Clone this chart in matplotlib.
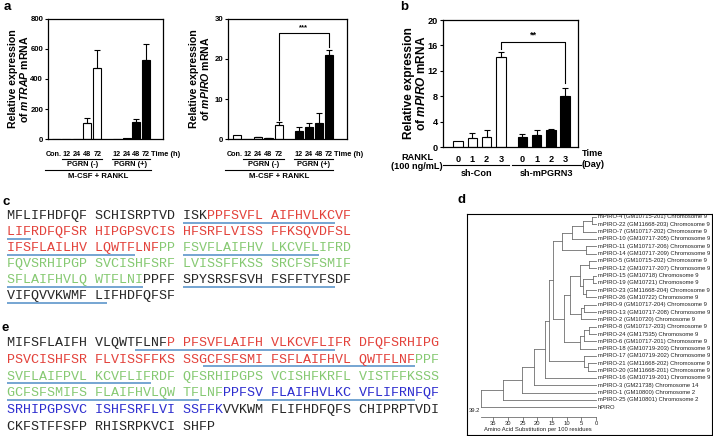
import matplotlib
matplotlib.use('Agg')
import matplotlib.pyplot as plt
import numpy as np

plt.rcParams['font.family'] = ['Liberation Sans', 'DejaVu Sans']
plt.rcParams['mathtext.fontset'] = 'custom'
plt.rcParams['mathtext.it'] = 'Liberation Sans:italic:bold'
plt.rcParams['mathtext.rm'] = 'Liberation Sans:bold'

# ---------------- data ----------------
# panel a, mTRAP (PGRN - / PGRN +)
hour_labels = ['Con.', '12', '24', '48', '72', '12', '24', '48', '72']
trap_minus = [1, 1, 3, 107, 473]
trap_minus_err = [0, 0, 0, 33, 120]
trap_plus = [1, 5, 113, 527]
trap_plus_err = [0, 0, 20, 106]

# panel a, mPIRO
piro_minus = [1.0, 0.1, 0.5, 0.3, 3.5]
piro_minus_err = [0.0, 0.0, 0.1, 0.05, 0.8]
piro_plus = [2.0, 2.9, 4.0, 21.0]
piro_plus_err = [0.9, 1.0, 2.4, 1.2]

# panel b
day_labels = ['0', '1', '2', '3', '0', '1', '2', '3']
shcon = [1.0, 1.4, 1.6, 14.1]
shcon_err = [0.0, 0.8, 1.0, 0.9]
shpgrn = [1.6, 1.9, 2.7, 8.0]
shpgrn_err = [0.4, 0.7, 0.2, 1.3]

# panel c / e sequences: (text, colour key) segments per row
c_rows = [
    [("MFLIFHDFQF SCHISRPTVD ISK", 'k'), ("PPFSVFL AIFHVLKCVF", 'r')],
    [("LIFRDFQFSR HIPGPSVCIS HFSRFLVISS FFKSQVDFSL", 'r')],
    [("IFSFLAILHV LQWTFLNF", 'r'), ("PP FSVFLAIFHV LKCVFLIFRD", 'g')],
    [("FQVSRHIPGP SVCISHFSRF LVISSFFKSS SRCFSFSMIF", 'g')],
    [("SFLAIFHVLQ WTFLNI", 'g'), ("PPFF SPYSRSFSVH FSFFTYFSDF", 'k')],
    [("VIFQVVKWMF LIFHDFQFSF", 'k')],
]
c_underlines = [(0, 22, 41), (1, 0, 3), (2, 0, 16), (2, 22, 39),
                (4, 0, 17), (4, 22, 41), (5, 0, 12.5)]

e_rows = [
    [("MIFSFLAIFH VLQWTFLNF", 'k'), ("P PFSVFLAIFH VLKCVFLIFR DFQFSRHIPG", 'r')],
    [("PSVCISHFSR FLVISSFFKS SSGCFSFSMI FSFLAIFHVL QWTFLNF", 'r'), ("PPF", 'g')],
    [("SVFLAIFPVL KCVFLIFRDF QFSRHIPGPS VCISHFKRFL VISTFFKSSS", 'g')],
    [("GCFSFSMIFS FLAIFHVLQW TFLNF", 'g'), ("PPFSV FLAIFHVLKC VFLIFRNFQF", 'b')],
    [("SRHIPGPSVC ISHFSRFLVI SSFFK", 'b'), ("VVKWM FLIFHDFQFS CHIPRPTVDI", 'k')],
    [("CKFSTFFSFP RHISRPKVCI SHFP", 'k')],
]
e_underlines = [(0, 16, 41), (1, 24.5, 51), (2, 0, 18), (3, 0, 24), (3, 31.2, 51)]

# panel d tree: leaves top to bottom, nodes = (height, [children])
leaf_names = [
    'mPIRO-4 (GM10715-201) Chromosome 9', 'mPIRO-22 (GM11668-203) Chromosome 9',
    'mPIRO-7 (GM10717-202) Chromosome 9', 'mPIRO-10 (GM10717-205) Chromosome 9',
    'mPIRO-11 (GM10717-206) Chromosome 9', 'mPIRO-14 (GM10717-209) Chromosome 9',
    'mPIRO-5 (GM10715-202) Chromosome 9', 'mPIRO-12 (GM10717-207) Chromosome 9',
    'mPIRO-15 (GM10718) Chromosome 9', 'mPIRO-19 (GM10721) Chromosome 9',
    'mPIRO-23 (GM11668-204) Chromosome 9', 'mPIRO-26 (GM10722) Chromosome 9',
    'mPIRO-9 (GM10717-204) Chromosome 9', 'mPIRO-13 (GM10717-208) Chromosome 9',
    'mPIRO-2 (GM10720) Chromosome 9', 'mPIRO-8 (GM10717-203) Chromosome 9',
    'mPIRO-24 (GM17535) Chromosome 9', 'mPIRO-6 (GM10717-201) Chromosome 9',
    'mPIRO-18 (GM10719-203) Chromosome 9', 'mPIRO-17 (GM10719-202) Chromosome 9',
    'mPIRO-21 (GM11668-202) Chromosome 9', 'mPIRO-20 (GM11668-201) Chromosome 9',
    'mPIRO-16 (GM10719-201) Chromosome 9', 'mPIRO-3 (GM21738) Chromosome 14',
    'mPIRO-1 (GM10800) Chromosome 2', 'mPIRO-25 (GM10801) Chromosome 2',
    'hPIRO',
]
clade_12 = (11.5, [(8.0, [(4.4, [(1.4, [0, 1]), 2]), 3]), (3.5, [4, 5])])
clade_3 = (5.5, [(2.4, [6, 7]), (4.5, [(1.0, [8, 9]), (3.5, [10, 11])])])
clade_4 = (5.0, [(4.0, [12, 13]), 14])
clade_5 = (5.5, [(4.0, [(2.4, [15, 16]), 17]), 18])
clade_g = (4.0, [19, (2.7, [20, 21])])
big = (16.0, [(14.6, [clade_12, (11.0, [(9.0, [clade_3, clade_4]), clade_5])]), clade_g])
tree = (39.2, [(31.6, [(25.2, [(21.0, [(17.3, [big, 22]), 23]), 24]), 25]), 26])
scale_ticks = [35, 30, 25, 20, 15, 10, 5, 0]

# ---------------- layout helpers ----------------
W, H = 713, 436
fig = plt.figure(figsize=(W / 100, H / 100), dpi=100)
NARROW = ['Liberation Sans Narrow', 'Liberation Sans']


def rect(l, t, r, b):
    return [l / W, 1 - b / H, (r - l) / W, (b - t) / H]


RED, GREEN, BLUE, BLACK = '#e3423b', '#86c972', '#2d2dcf', '#262626'
colour = {'r': RED, 'g': GREEN, 'b': BLUE, 'k': BLACK}
ULINE = '#4f8dc6'

# overlay for sequences and panel letters
ax_t = fig.add_axes([0, 0, 1, 1], zorder=0)
ax_t.set_xlim(0, W)
ax_t.set_ylim(H, 0)
ax_t.axis('off')

for lab, x, y in [('a', 7, 7), ('b', 404, 7), ('c', 6, 202), ('d', 461, 200), ('e', 5, 328)]:
    ax_t.text(x, y, lab, fontsize=9.5, fontweight='bold', ha='center', va='center')


def draw_seq(rows, unders, y0, dy, x0=7.0, cw=8.0):
    for i, row in enumerate(rows):
        for key in set(c for _, c in row):
            s = ''.join(t if c == key else ' ' * len(t) for t, c in row)
            ax_t.text(x0, y0 + i * dy, s, family='Liberation Mono', fontsize=9.6,
                      color=colour[key], ha='left', va='center')
    for r, a, b in unders:
        ax_t.plot([x0 + a * cw, x0 + b * cw], [y0 + r * dy + 6.5] * 2,
                  color=ULINE, lw=1.1, solid_capstyle='butt')


draw_seq(c_rows, c_underlines, 216, 16.0)
draw_seq(e_rows, e_underlines, 343, 16.8)


# ---------------- bar panels ----------------
def bar_panel(box, pos_a, va, ea, pos_b, vb, eb, width, ymax, ystep, ylabel, ylabel_x, fs):
    ax = fig.add_axes(rect(*box))
    ax.bar(pos_a, va, width, color='white', edgecolor='black', lw=0.8, zorder=2)
    ax.bar(pos_b, vb, width, color='black', edgecolor='black', lw=0.8, zorder=2)
    for p, v, e in [(pos_a, va, ea), (pos_b, vb, eb)]:
        p, v, e = np.array(p), np.array(v), np.array(e)
        m = e > 0
        ax.errorbar(p[m], v[m], yerr=[np.zeros(m.sum()), e[m]], fmt='none',
                    ecolor='black', elinewidth=0.8, capsize=2.2, capthick=0.8, zorder=3)
    ax.set_ylim(0, ymax)
    ax.set_yticks(np.arange(0, ymax + ystep / 2, ystep))
    for s in ax.spines.values():
        s.set_linewidth(0.9)
    ax.tick_params(axis='y', length=2.5, width=0.8, pad=1, labelsize=fs)
    for t in ax.get_yticklabels():
        t.set_fontweight('bold')
    ax.set_ylabel(ylabel, fontsize=fs + 2, fontweight='bold', linespacing=1.0)
    ax.yaxis.set_label_coords(ylabel_x, 0.5)
    return ax


def below(ax, px):
    # pixel distance under the bottom of an axes -> axes fraction
    return -px / (ax.get_position().height * H)


def group_annot(ax, x0, x1, y_line, text, y_text, fs):
    tr = ax.get_xaxis_transform()
    ax.plot([x0, x1], [below(ax, y_line)] * 2, color='black', lw=0.8,
            transform=tr, clip_on=False)
    ax.text((x0 + x1) / 2, below(ax, y_text), text, transform=tr, ha='center',
            va='center', fontsize=fs, fontweight='bold')


pos_minus = np.arange(5)
pos_plus = np.array([5.9, 6.85, 7.8, 8.75])
# label spots under the bars; "Con." nudged left so it clears "12"
label_pos = np.concatenate([[-0.2], pos_minus[1:], pos_plus])

panels_a = [
    ((48, 19, 163, 139), trap_minus, trap_minus_err, trap_plus, trap_plus_err, 800, 200,
     'Relative expression\nof $mTRAP$ mRNA', (-0.8, 10.4), -0.16),
    ((228, 19, 347, 139), piro_minus, piro_minus_err, piro_plus, piro_plus_err, 30, 10,
     'Relative expression\nof $mPIRO$ mRNA', (-0.86, 10.5), -0.14),
]
axes_a = []
for box, vm, em, vp, ep, ymax, ystep, ylab, xl, lx in panels_a:
    ax = bar_panel(box, pos_minus, vm, em, pos_plus, vp, ep, 0.78, ymax, ystep, ylab, lx, 5.6)
    ax.set_xlim(*xl)
    ax.set_xticks(label_pos, hour_labels)
    ax.tick_params(axis='x', length=0, pad=8.5, labelsize=5.2)
    for t in ax.get_xticklabels():
        t.set_fontweight('bold')
        t.set_family(NARROW)
    tr = ax.get_xaxis_transform()
    ax.text(10.7, below(ax, 16), 'Time (h)', transform=tr, ha='center', va='center',
            fontsize=5.4, fontweight='bold', family=NARROW)
    group_annot(ax, 0.6, 4.5, 20, 'PGRN (-)', 25, 5.4)
    group_annot(ax, pos_plus[0] - 0.5, pos_plus[-1] + 0.4, 20, 'PGRN (+)', 25, 5.4)
    group_annot(ax, xl[0] - 0.3, pos_plus[-1] + 0.45, 31, 'M-CSF + RANKL', 37, 5.6)
    axes_a.append(ax)

# significance in mPIRO panel
ax = axes_a[1]
ax.plot([pos_minus[-1], pos_minus[-1], pos_plus[-1], pos_plus[-1]], [4.8, 26.5, 26.5, 23.0],
        color='black', lw=0.8)
ax.text((pos_minus[-1] + pos_plus[-1]) / 2, 26.9, '***', ha='center', va='bottom',
        fontsize=5.5, fontweight='bold')

# panel b
pos_con = np.arange(4)
pos_sh = np.arange(4) + 4.5
axb = bar_panel((443, 20, 578, 147), pos_con, shcon, shcon_err, pos_sh, shpgrn, shpgrn_err,
                0.66, 20, 4, 'Relative expression\nof $mPIRO$ mRNA', -0.11, 6.6)
axb.set_xlim(-1.05, 8.4)
axb.set_xticks(np.concatenate([pos_con, pos_sh]), day_labels)
axb.tick_params(axis='x', length=0, pad=5.5, labelsize=6.6)
for t in axb.get_xticklabels():
    t.set_fontweight('bold')
axb.plot([pos_con[-1], pos_con[-1], pos_sh[-1], pos_sh[-1]], [15.4, 16.6, 16.6, 10.0],
         color='black', lw=0.8)
axb.text((pos_con[-1] + pos_sh[-1]) / 2, 17.0, '**', ha='center', va='bottom',
         fontsize=6.5, fontweight='bold')
trb = axb.get_xaxis_transform()
axb.text(-2.85, below(axb, 10), 'RANKL', transform=trb, ha='center', va='center',
         fontsize=6.6, fontweight='bold')
axb.text(-2.85, below(axb, 19), '(100 ng/mL)', transform=trb, ha='center', va='center',
         fontsize=6.6, fontweight='bold')
axb.text(9.4, below(axb, 6), 'Time', transform=trb, ha='center', va='center',
         fontsize=6.6, fontweight='bold')
axb.text(9.45, below(axb, 17), '(Day)', transform=trb, ha='center', va='center',
         fontsize=6.6, fontweight='bold')
group_annot(axb, -1.05, 3.6, 18, 'sh-Con', 26, 6.6)
group_annot(axb, 3.8, 8.6, 18, 'sh-mPGRN3', 26, 6.6)

# ---------------- panel d tree ----------------
axd = fig.add_axes(rect(467, 214, 712, 435))
axd.set_xlim(43.9, -39.5)
axd.set_ylim(29.8, -0.41)
axd.set_xticks([])
axd.set_yticks([])
for s in axd.spines.values():
    s.set_linewidth(0.8)

TREE_C = '#6f6f6f'


def draw_node(node):
    if isinstance(node, int):
        return float(node), 0.0
    h, kids = node
    pts = [draw_node(k) for k in kids]
    ys = [p[0] for p in pts]
    for y, kh in pts:
        axd.plot([h, kh], [y, y], color=TREE_C, lw=0.6)
    axd.plot([h, h], [min(ys), max(ys)], color=TREE_C, lw=0.6)
    return (min(ys) + max(ys)) / 2, h


draw_node(tree)
for i, name in enumerate(leaf_names):
    axd.text(-0.7, i, name, fontsize=4.2, ha='left', va='center', color='#222222',
             family=NARROW)

# scale bar
sy = 27.3
axd.plot([tree[0], 0], [sy, sy], color=TREE_C, lw=0.6)
for t in scale_ticks:
    axd.plot([t, t], [sy, sy + 0.45], color=TREE_C, lw=0.6)
    axd.text(t, sy + 0.95, str(t), fontsize=4.2, ha='center', va='center', color='#222222',
             family=NARROW)
axd.text(tree[0] + 2.3, 26.4, '%.1f' % tree[0], fontsize=4.2, ha='center', va='center',
         color='#222222', family=NARROW)
axd.text(19.7, 29.0, 'Amino Acid Substitution per 100 residues', fontsize=4.2,
         ha='center', va='center', color='#222222', family=NARROW)

fig.savefig('out.png', dpi=100)
